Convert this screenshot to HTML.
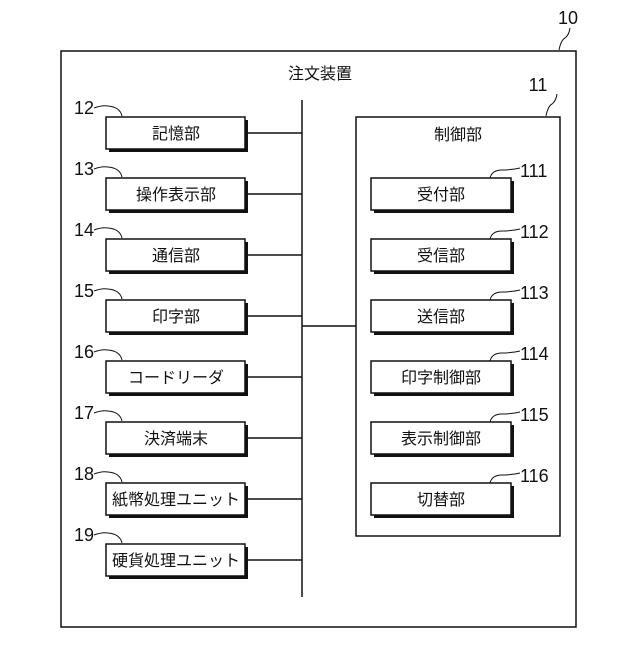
<!DOCTYPE html>
<html><head><meta charset="utf-8"><style>
html,body{margin:0;padding:0;background:#fff}
svg text{font-family:"Liberation Sans","Noto Sans CJK JP",sans-serif;fill:#111}
</style></head><body>
<svg width="640" height="640" viewBox="0 0 640 640" xmlns="http://www.w3.org/2000/svg">
<g stroke="#111" fill="none" stroke-width="1.5">
<rect x="61" y="51" width="515" height="576"/>
<path d="M559 50 q2 -10 6 -12 q4 -3 5 -10" stroke-width="1"/>
<line x1="302" y1="100" x2="302" y2="597"/>
<rect x="356" y="117" width="204" height="419"/>
<path d="M546 116 q2 -10 6 -12 q4 -3 5 -10" stroke-width="1"/>
<line x1="302" y1="326" x2="356" y2="326"/>
</g>
<text x="320" y="79" font-size="16" text-anchor="middle">注文装置</text>
<text x="568" y="24" font-size="18" text-anchor="middle">10</text>
<text x="538" y="91" font-size="18" text-anchor="middle">11</text>
<text x="458" y="140" font-size="16" text-anchor="middle">制御部</text>
<g id="L">
</g>
<script>
const s=document.querySelector('svg');const NS='http://www.w3.org/2000/svg';
function el(t,a,txt){const e=document.createElementNS(NS,t);for(const k in a)e.setAttribute(k,a[k]);if(txt)e.textContent=txt;s.appendChild(e);return e;}
const L=[["12","記憶部"],["13","操作表示部"],["14","通信部"],["15","印字部"],["16","コードリーダ"],["17","決済端末"],["18","紙幣処理ユニット"],["19","硬貨処理ユニット"]];
L.forEach((d,i)=>{const y=117+i*61;
el('rect',{x:109,y:y+3,width:139,height:32,fill:'#111'});
el('rect',{x:106,y:y,width:139,height:32,fill:'#fff',stroke:'#111','stroke-width':1.5});
el('line',{x1:248,y1:y+16,x2:302,y2:y+16,stroke:'#111','stroke-width':1.5});
el('path',{d:`M94 ${y-9} q8 -3 14 -2 q12 1 14 10`,stroke:'#111',fill:'none','stroke-width':1});
el('text',{x:94,y:y-3,'font-size':18,'text-anchor':'end'},d[0]);
el('text',{x:176,y:y+22,'font-size':16,'text-anchor':'middle'},d[1]);});
const R=[["111","受付部"],["112","受信部"],["113","送信部"],["114","印字制御部"],["115","表示制御部"],["116","切替部"]];
R.forEach((d,i)=>{const y=178+i*61;
el('rect',{x:374,y:y+3,width:140,height:32,fill:'#111'});
el('rect',{x:371,y:y,width:140,height:32,fill:'#fff',stroke:'#111','stroke-width':1.5});
el('path',{d:`M490 ${y} q2 -8 12 -8 q10 0 18 -2`,stroke:'#111',fill:'none','stroke-width':1});
el('text',{x:520,y:y-1,'font-size':18},d[0]);
el('text',{x:441,y:y+22,'font-size':16,'text-anchor':'middle'},d[1]);});
</script>
</svg>
</body></html>
